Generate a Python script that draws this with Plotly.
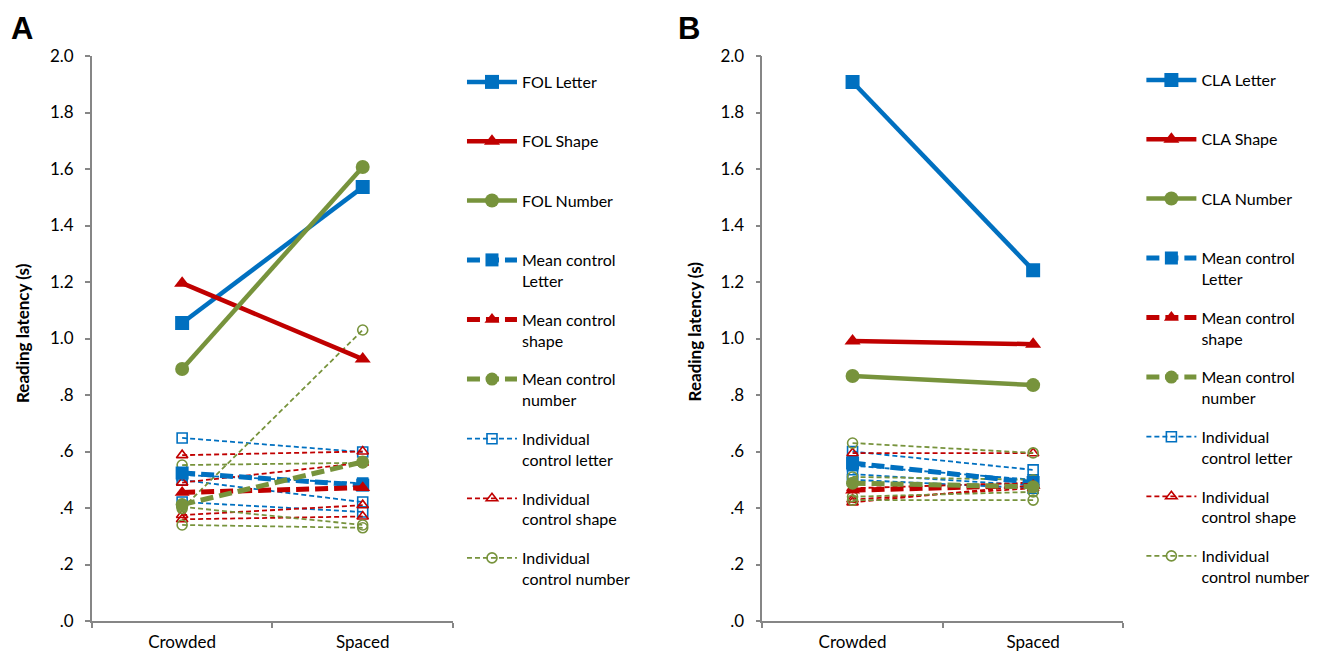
import plotly.graph_objects as go

conditions = ["Crowded", "Spaced"]
y_tickvals = [0, 0.2, 0.4, 0.6, 0.8, 1.0, 1.2, 1.4, 1.6, 1.8, 2.0]
y_ticktext = [".0", ".2", ".4", ".6", ".8", "1.0", "1.2", "1.4", "1.6", "1.8", "2.0"]

# Panel A (FOL)
fol_letter = [1.055, 1.536]
fol_shape = [1.196, 0.927]
fol_number = [0.892, 1.607]
a_mean_letter = [0.524, 0.481]
a_mean_shape = [0.455, 0.472]
a_mean_number = [0.412, 0.563]
a_ind_letter = [[0.648, 0.598], [0.517, 0.488], [0.499, 0.421], [0.421, 0.386]]
a_ind_shape = [[0.587, 0.60], [0.49, 0.56], [0.375, 0.41], [0.36, 0.37]]
a_ind_number = [[0.552, 0.56], [0.398, 1.03], [0.34, 0.33], [0.404, 0.34]]

# Panel B (CLA)
cla_letter = [1.908, 1.242]
cla_shape = [0.991, 0.980]
cla_number = [0.867, 0.835]
b_mean_letter = [0.559, 0.490]
b_mean_shape = [0.463, 0.480]
b_mean_number = [0.488, 0.475]
b_ind_letter = [[0.60, 0.535], [0.55, 0.50], [0.52, 0.48], [0.50, 0.47]]
b_ind_shape = [[0.594, 0.594], [0.47, 0.49], [0.43, 0.47], [0.42, 0.48]]
b_ind_number = [[0.63, 0.595], [0.51, 0.50], [0.44, 0.457], [0.428, 0.428]]

BLUE = "#0070C0"
RED = "#C00000"
GREEN = "#77933C"
FONT = "Lato"

W, H = 1318, 652
OX, OY = 8, 8          # page body offset
ML, MR, MT, MB = 20, 20, 20, 20
PW, PH = W - ML - MR, H - MT - MB


def fx(p):
    return (p - OX - ML) / PW


def fy(p):
    return (H - MB - (p - OY)) / PH


fig = go.Figure()

panels = [
    dict(xa="x", ya="y", main=("FOL", fol_letter, fol_shape, fol_number),
         means=(a_mean_letter, a_mean_shape, a_mean_number),
         inds=(a_ind_letter, a_ind_shape, a_ind_number), lg1="legend", lg2="legend2"),
    dict(xa="x2", ya="y2", main=("CLA", cla_letter, cla_shape, cla_number),
         means=(b_mean_letter, b_mean_shape, b_mean_number),
         inds=(b_ind_letter, b_ind_shape, b_ind_number), lg1="legend3", lg2="legend4"),
]

colors = [BLUE, RED, GREEN]
filled = ["square", "triangle-up", "circle"]
opened = ["square-open", "triangle-up-open", "circle-open"]
mean_names = ["Mean control<br>Letter", "Mean control<br>shape", "Mean control<br>number"]
ind_names = ["Individual<br>control letter", "Individual<br>control shape", "Individual<br>control number"]
main_names = ["Letter", "Shape", "Number"]

for p in panels:
    label = p["main"][0]
    for k in range(3):
        for j, vals in enumerate(p["inds"][k]):
            fig.add_trace(go.Scatter(
                x=conditions, y=vals, xaxis=p["xa"], yaxis=p["ya"],
                mode="lines+markers", name=ind_names[k],
                line=dict(color=colors[k], width=1.8, dash="5px,3px"),
                marker=dict(symbol=opened[k], size=10, color=colors[k],
                            line=dict(width=1.6, color=colors[k])),
                showlegend=(j == 0), legend=p["lg2"], legendgroup=p["lg2"] + ind_names[k],
                legendrank=10 + k))
    for k in range(3):
        fig.add_trace(go.Scatter(
            x=conditions, y=p["means"][k], xaxis=p["xa"], yaxis=p["ya"],
            mode="lines+markers", name=mean_names[k],
            line=dict(color=colors[k], width=5, dash="13px,6px"),
            marker=dict(symbol=filled[k], size=13, color=colors[k]),
            legend=p["lg2"], legendgroup=p["lg2"] + mean_names[k], legendrank=5 + k))
    for k in range(3):
        fig.add_trace(go.Scatter(
            x=conditions, y=p["main"][k + 1], xaxis=p["xa"], yaxis=p["ya"],
            mode="lines+markers", name=label + " " + main_names[k],
            line=dict(color=colors[k], width=4.5),
            marker=dict(symbol=filled[k], size=14, color=colors[k]),
            legend=p["lg1"], legendgroup=p["lg1"] + main_names[k], legendrank=1 + k))

axis_common = dict(showline=True, linecolor="#868686", linewidth=1.5, ticks="outside",
                   tickcolor="#868686", ticklen=5, tickwidth=1.5, showgrid=False,
                   zeroline=False, automargin=False,
                   tickfont=dict(family=FONT, size=17, color="#000"))

ydom = [fy(621), fy(56)]
fig.update_layout(
    width=W, height=H, margin=dict(l=ML, r=MR, t=MT, b=MB),
    plot_bgcolor="white", paper_bgcolor="white",
    font=dict(family=FONT, size=15, color="#000"),
    xaxis=dict(domain=[fx(92), fx(454)], range=[-0.5, 1.5], type="category",
               tickson="boundaries", anchor="y", ticklabelstandoff=5, **axis_common),
    yaxis=dict(domain=ydom, range=[0, 2.0], tickvals=y_tickvals, ticktext=y_ticktext,
               anchor="x", ticklabelstandoff=8, **axis_common),
    xaxis2=dict(domain=[fx(764), fx(1126)], range=[-0.5, 1.5], type="category",
                tickson="boundaries", anchor="y2", ticklabelstandoff=5, **axis_common),
    yaxis2=dict(domain=ydom, range=[0, 2.0], tickvals=y_tickvals, ticktext=y_ticktext,
                anchor="x2", ticklabelstandoff=8, **axis_common),
)

leg_common = dict(font=dict(family=FONT, size=16, color="#000"), bgcolor="rgba(0,0,0,0)",
                  traceorder="grouped", itemwidth=50, valign="top",
                  xanchor="left", yanchor="top", itemclick=False)
fig.update_layout(
    legend=dict(x=fx(463), y=fy(65), tracegroupgap=35.5, **leg_common),
    legend2=dict(x=fx(463), y=fy(243), tracegroupgap=15, **leg_common),
    legend3=dict(x=fx(1144), y=fy(63), tracegroupgap=35.5, **leg_common),
    legend4=dict(x=fx(1144), y=fy(241), tracegroupgap=15, **leg_common),
)

annots = [
    dict(text="<b>A</b>", x=fx(22), y=fy(29), font=dict(family="Liberation Sans", size=31)),
    dict(text="<b>B</b>", x=fx(691), y=fy(29), font=dict(family="Liberation Sans", size=31)),
    dict(text="<b>Reading latency (s)</b>", x=fx(22), y=fy(333), textangle=-90,
         font=dict(family=FONT, size=17)),
    dict(text="<b>Reading latency (s)</b>", x=fx(696), y=fy(331), textangle=-90,
         font=dict(family=FONT, size=17)),
]
for a in annots:
    fig.add_annotation(xref="paper", yref="paper", showarrow=False,
                       xanchor="center", yanchor="middle", **a)

fig.write_html("out.html")
